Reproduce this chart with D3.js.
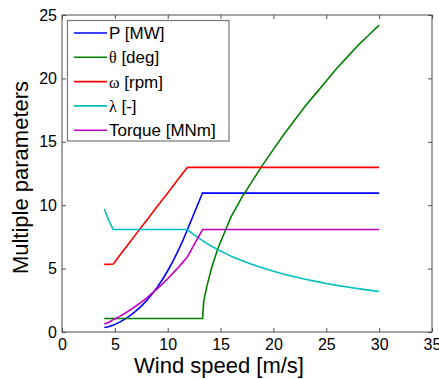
<!DOCTYPE html>
<html>
<head>
<meta charset="utf-8">
<script src="https://cdn.jsdelivr.net/npm/d3@7"></script>
<style>
  html, body { margin: 0; padding: 0; background: #fff; }
  svg { display: block; }
</style>
</head>
<body>
<svg id="chart" width="439" height="379"></svg>
<script>
// ---- data ----
const windSpeed = [4, 4.4, 4.85, 5, 5.5, 6, 6.5, 7, 7.5, 8, 8.5, 9, 9.5, 10, 10.5, 11, 11.5, 11.85, 12.5, 13.3, 13.4, 13.7, 14.2, 14.8, 15.6, 16, 17, 18, 19, 20, 21, 22, 23, 24, 25, 26, 27, 28, 29, 30];
const powerMW = [0.36, 0.42, 0.55, 0.60, 0.80, 1.04, 1.33, 1.66, 2.04, 2.47, 2.97, 3.52, 4.14, 4.83, 5.59, 6.43, 7.35, 8.04, 9.36, 10.98, 10.95, 10.95, 10.95, 10.95, 10.95, 10.95, 10.95, 10.95, 10.95, 10.95, 10.95, 10.95, 10.95, 10.95, 10.95, 10.95, 10.95, 10.95, 10.95, 10.95];
const pitchDeg = [1.07, 1.07, 1.07, 1.07, 1.07, 1.07, 1.07, 1.07, 1.07, 1.07, 1.07, 1.07, 1.07, 1.07, 1.07, 1.07, 1.07, 1.07, 1.07, 1.07, 2.4, 3.6, 5.2, 6.7, 8.3, 9.1, 10.6, 11.9, 13.2, 14.4, 15.6, 16.7, 17.8, 18.8, 19.8, 20.8, 21.7, 22.6, 23.4, 24.2];
const rotorRpm = [5.33, 5.33, 5.36, 5.52, 6.09, 6.63, 7.17, 7.72, 8.26, 8.80, 9.34, 9.89, 10.43, 10.97, 11.51, 12.06, 12.60, 12.98, 12.98, 12.98, 12.98, 12.98, 12.98, 12.98, 12.98, 12.98, 12.98, 12.98, 12.98, 12.98, 12.98, 12.98, 12.98, 12.98, 12.98, 12.98, 12.98, 12.98, 12.98, 12.98];
const tipSpeedRatio = [9.7, 8.85, 8.08, 8.08, 8.08, 8.08, 8.08, 8.08, 8.08, 8.08, 8.08, 8.08, 8.08, 8.08, 8.08, 8.08, 8.08, 8.08, 7.66, 7.20, 7.15, 6.99, 6.74, 6.47, 6.14, 5.98, 5.63, 5.32, 5.04, 4.79, 4.56, 4.35, 4.16, 3.99, 3.83, 3.68, 3.55, 3.42, 3.30, 3.19];
const torqueMNm = [0.63, 0.75, 0.98, 1.03, 1.25, 1.50, 1.77, 2.05, 2.36, 2.68, 3.04, 3.40, 3.79, 4.20, 4.64, 5.09, 5.57, 5.91, 6.89, 8.08, 8.08, 8.08, 8.08, 8.08, 8.08, 8.08, 8.08, 8.08, 8.08, 8.08, 8.08, 8.08, 8.08, 8.08, 8.08, 8.08, 8.08, 8.08, 8.08, 8.08];

const xTicks = [0, 5, 10, 15, 20, 25, 30, 35];
const yTicks = [0, 5, 10, 15, 20, 25];
const seriesNames = ["P [MW]", "θ [deg]", "ω [rpm]", "λ [-]", "Torque [MNm]"];
const seriesColors = ["#0000ff", "#008000", "#ff0000", "#00bfbf", "#bf00bf"];
const seriesValues = [powerMW, pitchDeg, rotorRpm, tipSpeedRatio, torqueMNm];
const xLabel = "Wind speed [m/s]";
const yLabel = "Multiple parameters";

// ---- layout ----
const L = 62, R = 432, T = 15, B = 332;
const svg = d3.select("#chart");
const font = "'Liberation Sans', Arial, sans-serif";

const x = d3.scaleLinear().domain([0, 35]).range([L, R]);
const y = d3.scaleLinear().domain([0, 25]).range([B, T]);

svg.append("rect").attr("x", 0).attr("y", 0).attr("width", 439).attr("height", 379).attr("fill", "#fff");

// axes
const axisColor = "#4d4d4d";
function styleAxis(g) {
  g.select(".domain").remove();
  g.selectAll(".tick line").attr("stroke", axisColor);
  g.selectAll(".tick text").attr("fill", "#000").attr("font-family", font).attr("font-size", 16);
}
svg.append("g").attr("transform", `translate(0,${B})`)
  .call(d3.axisBottom(x).tickValues(xTicks).tickSize(-4).tickPadding(7).tickFormat(d3.format("d")))
  .call(styleAxis);
svg.append("g").attr("transform", `translate(0,${T})`)
  .call(d3.axisTop(x).tickValues(xTicks).tickSize(-4).tickFormat(""))
  .call(styleAxis);
svg.append("g").attr("transform", `translate(${L},0)`)
  .call(d3.axisLeft(y).tickValues(yTicks).tickSize(-4).tickPadding(5).tickFormat(d3.format("d")))
  .call(styleAxis);
svg.append("g").attr("transform", `translate(${R},0)`)
  .call(d3.axisRight(y).tickValues(yTicks).tickSize(-4).tickFormat(""))
  .call(styleAxis);

svg.append("rect").attr("x", L).attr("y", T).attr("width", R - L).attr("height", B - T)
  .attr("fill", "none").attr("stroke", axisColor).attr("stroke-width", 1);

// lines
const line = d3.line().x((d, i) => x(windSpeed[i])).y(d => y(d));
seriesValues.forEach((vals, k) => {
  svg.append("path").datum(vals)
    .attr("d", line)
    .attr("fill", "none")
    .attr("stroke", seriesColors[k])
    .attr("stroke-width", 1.6)
    .attr("stroke-linejoin", "round");
});

// axis labels
svg.append("text").attr("x", 219).attr("y", 373).attr("text-anchor", "middle")
  .attr("font-family", font).attr("font-size", 22).attr("fill", "#000").text(xLabel);
svg.append("text").attr("transform", "translate(28,177.5) rotate(-90)").attr("text-anchor", "middle")
  .attr("font-family", font).attr("font-size", 22).attr("fill", "#000").text(yLabel);

// legend
const lg = svg.append("g");
lg.append("rect").attr("x", 67.5).attr("y", 20.5).attr("width", 161.5).attr("height", 120.5)
  .attr("fill", "#fff").attr("stroke", "#777").attr("stroke-width", 1.2);
seriesNames.forEach((name, k) => {
  const yy = 33 + k * 24.3;
  lg.append("line").attr("x1", 74).attr("x2", 107).attr("y1", yy).attr("y2", yy)
    .attr("stroke", seriesColors[k]).attr("stroke-width", 1.6);
  const t = lg.append("text").attr("x", 109).attr("y", yy + 6)
    .attr("font-family", font).attr("font-size", 17).attr("fill", "#000");
  const first = name[0];
  if (/[θωλ]/.test(first)) {
    t.append("tspan").attr("font-family", "'Liberation Serif', 'DejaVu Serif', serif").attr("font-size", 16).text(first);
    t.append("tspan").text(name.slice(1));
  } else {
    t.text(name);
  }
});
</script>
</body>
</html>
